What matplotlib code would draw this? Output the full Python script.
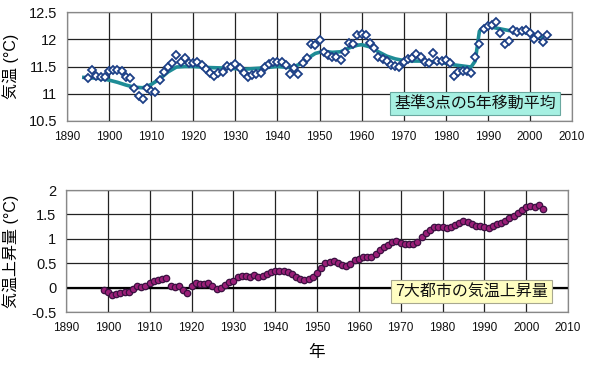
import matplotlib
matplotlib.use("Agg")
import matplotlib.pyplot as plt

plt.rcParams['font.family'] = ['Liberation Sans', 'Noto Sans CJK JP', 'DejaVu Sans']

# ---- top panel data: base 3 points annual mean temperature (1895-2004)
top_years = list(range(1895, 2005))
top_values = [
    11.28, 11.43, 11.32, 11.31, 11.30, 11.41, 11.43, 11.43, 11.42, 11.30,
    11.28, 11.10, 10.96, 10.91, 11.10, 11.05, 11.04, 11.26, 11.40, 11.49,
    11.57, 11.72, 11.59, 11.65, 11.56, 11.57, 11.59, 11.53, 11.45, 11.38,
    11.32, 11.38, 11.40, 11.51, 11.50, 11.54, 11.47, 11.38, 11.31, 11.35,
    11.36, 11.38, 11.50, 11.54, 11.59, 11.59, 11.59, 11.53, 11.37, 11.47,
    11.37, 11.56, 11.65, 11.92, 11.89, 11.98, 11.76, 11.71, 11.68, 11.67,
    11.62, 11.77, 11.93, 11.92, 12.07, 12.10, 12.07, 11.93, 11.84, 11.67,
    11.63, 11.61, 11.53, 11.51, 11.50, 11.59, 11.63, 11.65, 11.73, 11.67,
    11.59, 11.57, 11.75, 11.61, 11.60, 11.62, 11.57, 11.32, 11.40, 11.42,
    11.42, 11.38, 11.67, 11.92, 12.18, 12.24, 12.27, 12.31, 12.12, 11.92,
    11.97, 12.17, 12.13, 12.15, 12.17, 12.11, 12.00, 12.08, 11.95, 12.08,
]

# 5-year moving average line
ma_years = [1894, 1896, 1898, 1900, 1902, 1904, 1906, 1908, 1910, 1912,
            1914, 1916, 1918, 1920, 1924, 1928, 1932, 1936, 1940, 1943,
            1945, 1947, 1949, 1951, 1953, 1955, 1957, 1959, 1960, 1962,
            1964, 1966, 1968, 1970, 1972, 1974, 1976, 1978, 1980, 1982,
            1984, 1986, 1987, 1988, 1989, 1991, 1993, 1995, 1997, 1999,
            2001, 2003]
ma_values = [11.30, 11.29, 11.28, 11.25, 11.21, 11.16, 11.12, 11.11, 11.17, 11.27,
             11.40, 11.49, 11.50, 11.50, 11.48, 11.47, 11.45, 11.47, 11.50, 11.48,
             11.53, 11.64, 11.74, 11.78, 11.76, 11.77, 11.84, 11.89, 11.90, 11.86,
             11.77, 11.69, 11.64, 11.61, 11.60, 11.60, 11.59, 11.58, 11.56, 11.53,
             11.51, 11.49, 11.60, 12.15, 12.22, 12.22, 12.19, 12.16, 12.15, 12.12,
             12.08, 12.03]

# ---- bottom panel data: 7 big cities temperature rise (1899-2004)
bot_years = list(range(1899, 2005))
bot_values = [
    -0.05, -0.09, -0.15, -0.14, -0.11, -0.08, -0.08, -0.03, 0.03, 0.02,
    0.04, 0.10, 0.14, 0.15, 0.17, 0.20, 0.04, 0.02, 0.03, -0.05,
    -0.12, 0.03, 0.09, 0.07, 0.07, 0.09, 0.04, -0.03, -0.01, 0.05,
    0.12, 0.13, 0.21, 0.24, 0.24, 0.22, 0.26, 0.21, 0.23, 0.27,
    0.32, 0.33, 0.33, 0.34, 0.32, 0.27, 0.22, 0.18, 0.16, 0.18,
    0.22, 0.30, 0.40, 0.51, 0.53, 0.54, 0.51, 0.47, 0.45, 0.49,
    0.57, 0.59, 0.62, 0.63, 0.63, 0.69, 0.78, 0.84, 0.88, 0.93,
    0.95, 0.91, 0.90, 0.89, 0.90, 0.94, 1.04, 1.11, 1.19, 1.24,
    1.25, 1.25, 1.23, 1.25, 1.29, 1.32, 1.36, 1.34, 1.30, 1.27,
    1.27, 1.25, 1.23, 1.26, 1.30, 1.33, 1.37, 1.42, 1.46, 1.53,
    1.59, 1.66, 1.67, 1.66, 1.70, 1.62,
]

x_ticks = list(range(1890, 2011, 10))
top_yticks = [10.5, 11, 11.5, 12, 12.5]
top_ylabels = ['10.5', '11', '11.5', '12', '12.5']
bot_yticks = [-0.5, 0, 0.5, 1, 1.5, 2]
bot_ylabels = ['-0.5', '0', '0.5', '1', '1.5', '2']

W, H = 600, 366
fig = plt.figure(figsize=(W / 100, H / 100), dpi=100)
fig.patch.set_facecolor('white')

ax1 = fig.add_axes([67 / W, 1 - 121 / H, (572 - 67) / W, (121 - 12) / H])
ax2 = fig.add_axes([66 / W, 1 - 312 / H, (568 - 66) / W, (312 - 190) / H])

grid_color = '#222222'
for ax in (ax1, ax2):
    ax.set_xlim(1890, 2010)
    ax.set_xticks(x_ticks)
    ax.set_xticklabels([str(t) for t in x_ticks], fontsize=8.5)
    ax.grid(True, color=grid_color, lw=0.9)
    ax.set_axisbelow(True)
    ax.tick_params(length=0, pad=7, colors='#111111')
    for s in ax.spines.values():
        s.set_color('#888888')
        s.set_linewidth(0.9)

# top panel
ax1.set_ylim(10.5, 12.5)
ax1.set_yticks(top_yticks)
ax1.set_yticklabels(top_ylabels, fontsize=10.5)
ax1.plot(ma_years, ma_values, color='#1e8c96', lw=2.6, zorder=3)
ax1.plot(top_years, top_values, ls='none', marker='D', ms=3.6,
         mfc='white', mec='#1c3f86', mew=1.3, zorder=4)
ax1.text(1987, 10.83, '基準3点の5年移動平均', fontsize=11.5, ha='center', va='center',
         zorder=6, color='#111111',
         bbox=dict(boxstyle='square,pad=0.25', fc='#a6f0e2', ec='#6aa8a0', lw=0.8))
ax1.set_ylabel('気温 (°C)', fontsize=11.5)
ax1.yaxis.set_label_coords((19 - 67) / 505, 0.5)

# bottom panel
ax2.set_ylim(-0.5, 2)
ax2.set_yticks(bot_yticks)
ax2.set_yticklabels(bot_ylabels, fontsize=10.5)
ax2.axhline(0, color='#000000', lw=1.6, zorder=2)
ax2.plot(bot_years, bot_values, ls='none', marker='o', ms=4.6,
         mfc='#9b1f78', mec='#3a1040', mew=0.9, zorder=4)
ax2.text(1987, -0.07, '7大都市の気温上昇量', fontsize=11.5, ha='center', va='center',
         zorder=6, color='#111111',
         bbox=dict(boxstyle='square,pad=0.25', fc='#fffec2', ec='#a8a890', lw=0.8))
ax2.set_ylabel('気温上昇量 (°C)', fontsize=11.5)
ax2.yaxis.set_label_coords((19 - 66) / 502, 0.5)
ax2.set_xlabel('年', fontsize=12, labelpad=8)

fig.savefig('out.png', dpi=100)
